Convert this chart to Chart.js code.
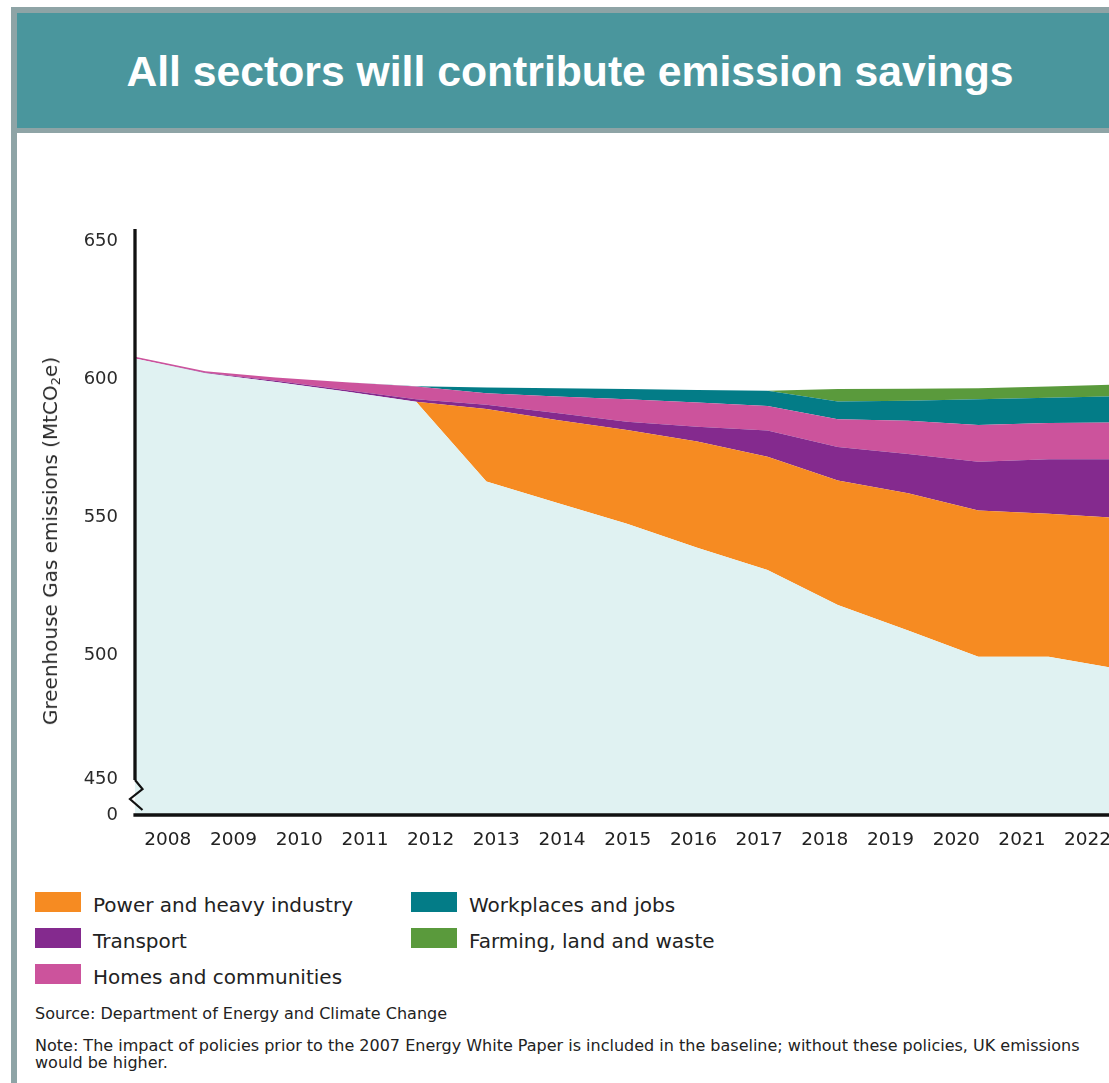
<!DOCTYPE html>
<html>
<head>
<meta charset="utf-8">
<script src="https://cdn.jsdelivr.net/npm/chart.js@4.4.1/dist/chart.umd.min.js"></script>
<style>
  html, body { margin: 0; padding: 0; background: #fff; }
  body { width: 1109px; height: 1083px; overflow: hidden; position: relative; font-family: "DejaVu Sans", sans-serif; color: #222; }
  .frame { position: absolute; left: 11px; top: 7px; width: 1118px; height: 1110px; border: 6px solid #8ea4a6; box-sizing: border-box; }
  .frame header { height: 114px; background: #4a969d; border-bottom: 5px solid #8ea4a6; display: flex; align-items: center; justify-content: center;
    color: #fff; font: bold 42.7px "Liberation Sans", Arial, sans-serif; padding-top: 1px; box-sizing: content-box; }
  #wrap { position: absolute; left: 0; top: 200px; width: 1263px; height: 655px; }
  .ytitle { position: absolute; left: 50px; top: 541px; transform: translate(-50%, -50%) rotate(-90deg); white-space: nowrap; font-size: 20px; line-height: 24px; color: #2a2a2a; }
  .ytitle sub { font-size: 13px; vertical-align: -3px; line-height: 0; }
  .item { position: absolute; display: flex; align-items: baseline; white-space: nowrap; font-size: 20px; line-height: 20px; color: #222; }
  .sw { display: inline-block; width: 46px; height: 20px; margin-right: 12px; }
  .src { position: absolute; left: 35px; font-size: 16px; line-height: 17px; color: #222; white-space: nowrap; }
</style>
</head>
<body>
<div class="frame"><header>All sectors will contribute emission savings</header></div>

<div id="wrap"><canvas id="ghgChart"></canvas></div>
<div class="ytitle">Greenhouse Gas emissions (MtCO<sub>2</sub>e)</div>

<div class="item" style="left:35px;top:892px"><span class="sw" style="background:#f68b22"></span>Power and heavy industry</div>
<div class="item" style="left:411px;top:892px"><span class="sw" style="background:#037c87"></span>Workplaces and jobs</div>
<div class="item" style="left:35px;top:928px"><span class="sw" style="background:#842a8e"></span>Transport</div>
<div class="item" style="left:411px;top:928px"><span class="sw" style="background:#5a9a3c"></span>Farming, land and waste</div>
<div class="item" style="left:35px;top:964px"><span class="sw" style="background:#cc539c"></span>Homes and communities</div>

<div class="src" style="top:1005px">Source: Department of Energy and Climate Change</div>
<div class="src" style="top:1037px">Note: The impact of policies prior to the 2007 Energy White Paper is included in the baseline; without these policies, UK emissions<br>would be higher.</div>

<script>
// Data (MtCO2e)
const years = ['2008', '2009', '2010', '2011', '2012', '2013', '2014', '2015', '2016', '2017', '2018', '2019', '2020', '2021', '2022'];
const remaining = [607.4, 602.0, 598.9, 595.4, 591.7, 562.8, 555.1, 547.5, 538.8, 530.8, 518.1, 508.8, 499.3, 499.3, 494.9];
const power = [0, 0, 0, 0, 0, 26.3, 30.0, 34.0, 38.5, 41.0, 45.1, 49.8, 53.0, 51.8, 54.7];
const transport = [0, 0.2, 0.4, 0.6, 0.9, 1.5, 2.5, 3.0, 5.4, 9.5, 12.1, 14.2, 17.7, 19.8, 21.3];
const homes = [0.6, 0.6, 1.2, 2.8, 4.6, 4.2, 6.0, 8.1, 8.7, 8.9, 10.1, 12.0, 13.3, 13.1, 13.3];
const workplaces = [0, 0, 0, 0, 0.1, 2.1, 3.0, 3.7, 4.6, 5.5, 6.4, 7.3, 9.3, 9.2, 9.5];
const farming = [0, 0, 0, 0, 0, 0, 0, 0, 0, 0, 4.5, 4.3, 4.0, 4.0, 4.3];

const yTickValues = [0, 450, 500, 550, 600, 650];
const yTickLabels = ['0', '450', '500', '550', '600', '650'];

// Axis ranges (the picture is cropped on the right, so the plot runs past the window)
const Y_MIN = 442, Y_MAX = 654.3;
const BREAK_LABEL_AT = 455;   // "450" sits just above the axis break
const X_DATA_MAX = 2024.05;
const X_LABEL_MIN = 2007.5, X_LABEL_MAX = 2024.67;

function series(values) {
    return values.map((v, i) => ({ x: +years[i], y: v }));
}

function layer(label, values, color, fill) {
    return {
        label: label,
        data: series(values),
        backgroundColor: color,
        borderWidth: 0,
        pointRadius: 0,
        pointHoverRadius: 0,
        tension: 0,
        fill: fill
    };
}

// Black axes with the zigzag break at the bottom of the y axis
const axisBreak = {
    id: 'axisBreak',
    afterDatasetsDraw(chart) {
        const { ctx, chartArea: a } = chart;
        ctx.save();
        ctx.strokeStyle = '#111';
        ctx.lineCap = 'butt';
        ctx.lineWidth = 3.3;
        ctx.beginPath();
        ctx.moveTo(a.left, a.top);
        ctx.lineTo(a.left, a.bottom - 35);
        ctx.moveTo(a.left - 1.6, a.bottom);
        ctx.lineTo(a.right, a.bottom);
        ctx.stroke();
        ctx.lineWidth = 2.2;
        ctx.beginPath();
        ctx.moveTo(a.left, a.bottom - 35);
        ctx.lineTo(a.left + 7.5, a.bottom - 26);
        ctx.lineTo(a.left - 5, a.bottom - 16);
        ctx.lineTo(a.left + 7.5, a.bottom - 5);
        ctx.stroke();
        ctx.restore();
    }
};

const ctx = document.getElementById('ghgChart').getContext('2d');
const ghgChart = new Chart(ctx, {
    type: 'line',
    data: {
        datasets: [
            layer('Remaining emissions', remaining, '#e0f2f2', 'start'),
            layer('Power and heavy industry', power, '#f68b22', '-1'),
            layer('Transport', transport, '#842a8e', '-1'),
            layer('Homes and communities', homes, '#cc539c', '-1'),
            layer('Workplaces and jobs', workplaces, '#037c87', '-1'),
            layer('Farming, land and waste', farming, '#5a9a3c', '-1')
        ]
    },
    options: {
        responsive: true,
        maintainAspectRatio: false,
        animation: false,
        events: [],
        layout: { padding: { top: 29, left: 0, right: 0, bottom: 0 } },
        plugins: {
            legend: { display: false },
            tooltip: { enabled: false }
        },
        scales: {
            x: { type: 'linear', min: 2008, max: X_DATA_MAX, display: false },
            xl: {
                type: 'linear',
                position: 'bottom',
                min: X_LABEL_MIN,
                max: X_LABEL_MAX,
                grid: { display: false, drawTicks: false },
                border: { display: false },
                afterBuildTicks: s => { s.ticks = years.map(y => ({ value: +y })); },
                afterFit: s => { s.height = 40; },
                ticks: {
                    autoSkip: false,
                    maxRotation: 0,
                    padding: 14,
                    color: '#222',
                    font: { family: 'DejaVu Sans', size: 18.5 },
                    callback: (v, i) => years[i]
                }
            },
            y: {
                stacked: true,
                min: Y_MIN,
                max: Y_MAX,
                grid: { display: false, drawTicks: false },
                border: { display: false },
                afterBuildTicks: s => {
                    s.ticks = yTickValues.map(v => ({ value: v === 0 ? Y_MIN : (v === 450 ? BREAK_LABEL_AT : v) }));
                },
                afterFit: s => { s.width = 135; },
                ticks: {
                    autoSkip: false,
                    padding: 17,
                    color: '#2a2a2a',
                    font: { family: 'DejaVu Sans', size: 18 },
                    callback: (v, i) => yTickLabels[i]
                }
            }
        }
    },
    plugins: [axisBreak]
});
</script>
</body>
</html>
